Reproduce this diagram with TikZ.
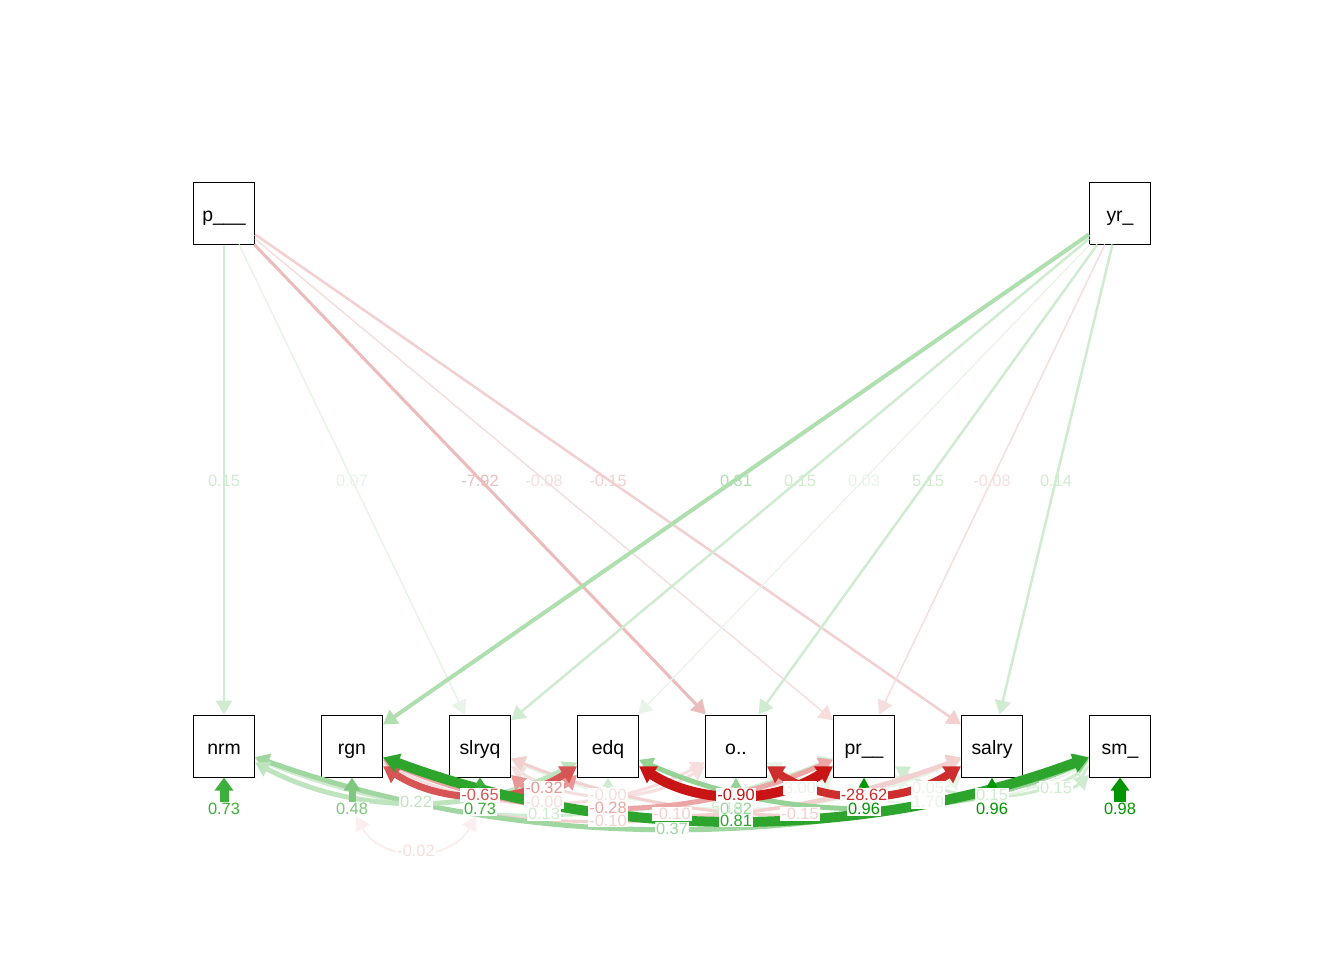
\documentclass[tikz,border=0pt]{standalone}
\usepackage{fontspec}
\setmainfont{Liberation Sans}
\usetikzlibrary{arrows.meta}

% greens (strong to faint)
\definecolor{cA}{RGB}{0,150,0}
\definecolor{cB}{RGB}{45,165,45}
\definecolor{cC}{RGB}{60,175,60}
\definecolor{cD}{RGB}{125,200,125}
\definecolor{cE}{RGB}{160,215,160}
\definecolor{cF}{RGB}{175,222,175}
\definecolor{cG}{RGB}{190,228,190}
\definecolor{cH}{RGB}{208,236,208}
\definecolor{cI}{RGB}{232,244,232}
\definecolor{cJ}{RGB}{150,210,150}
% reds (strong to faint)
\definecolor{rA}{RGB}{200,20,20}
\definecolor{rB}{RGB}{205,45,45}
\definecolor{rC}{RGB}{215,85,85}
\definecolor{rD}{RGB}{232,150,150}
\definecolor{rE}{RGB}{236,165,165}
\definecolor{rF}{RGB}{236,188,188}
\definecolor{rG}{RGB}{243,208,208}
\definecolor{rH}{RGB}{247,222,222}
\definecolor{rI}{RGB}{252,238,238}

\begin{document}
\begin{tikzpicture}[x=0.5pt,y=-0.5pt,
  var/.style={draw=black,line width=0.5pt,fill=white,minimum width=30.5pt,
    minimum height=31pt,inner sep=0pt,text height=1em,text depth=0.12em,
    font=\fontsize{9.7pt}{11pt}\selectfont},
  lbl/.style={font=\fontsize{8.2pt}{9pt}\selectfont,inner sep=0.5pt},
  blbl/.style={lbl,fill=white},
  tlbl/.style={lbl,yshift=-0.75pt},
  reg/.style={-{Triangle[length=7pt,width=8pt]}},
  cov/.style={{Triangle[length=7pt,width=8pt]}-{Triangle[length=7pt,width=8pt]}},
  covw/.style={{Triangle[length=8pt,width=9.5pt]}-{Triangle[length=8pt,width=9.5pt]}},
  d1/.style={out=-43,in=223,looseness=0.98},
  d2/.style={out=-33,in=213,looseness=0.93},
  d3/.style={out=-28,in=208,looseness=0.90},
  d4/.style={out=-24,in=204,looseness=0.89},
  d5/.style={out=-22,in=202,looseness=0.88},
  d6/.style={out=-20.4,in=200.4,looseness=0.88},
  d7/.style={out=-19.6,in=199.6,looseness=0.88}]
\useasboundingbox (0,0) rectangle (1344,960);
\fill[white] (0,0) rectangle (1344,960);

% variables
\node[var] (p)   at (224,213)  {p\_\_\_};
\node[var] (yr)  at (1120,213) {yr\_};
\node[var] (nrm) at (224,746)  {nrm};
\node[var] (rgn) at (352,746)  {rgn};
\node[var] (slr) at (480,746)  {slryq};
\node[var] (edq) at (608,746)  {edq};
\node[var] (o)   at (736,746)  {o..};
\node[var] (pr)  at (864,746)  {pr\_\_};
\node[var] (sal) at (992,746)  {salry};
\node[var] (sm)  at (1120,746) {sm\_};

% regressions
\draw[reg,draw=cH,line width=1.25pt] (p) -- coordinate[pos=.5] (t1) (nrm);
\draw[reg,draw=cI,line width=0.75pt] (p) -- coordinate[pos=.5] (t2) (slr);
\draw[reg,draw=rF,line width=1.5pt] (p) -- coordinate[pos=.5] (t3) (o);
\draw[reg,draw=rH,line width=0.75pt] (p) -- coordinate[pos=.5] (t4) (pr);
\draw[reg,draw=rG,line width=1.25pt] (p) -- coordinate[pos=.5] (t5) (sal);
\draw[reg,draw=cF,line width=2pt] (yr) -- coordinate[pos=.5] (t6) (rgn);
\draw[reg,draw=cH,line width=1.25pt] (yr) -- coordinate[pos=.5] (t7) (slr);
\draw[reg,draw=cI,line width=0.6pt] (yr) -- coordinate[pos=.5] (t8) (edq);
\draw[reg,draw=cH,line width=1.25pt] (yr) -- coordinate[pos=.5] (t9) (o);
\draw[reg,draw=rH,line width=0.75pt] (yr) -- coordinate[pos=.5] (t10) (pr);
\draw[reg,draw=cH,line width=1.25pt] (yr) -- coordinate[pos=.5] (t11) (sal);

% covariances
\draw[cov,draw=cI,line width=1pt] (o) to[d1] coordinate[pos=.5] (m2) (pr);
\draw[cov,draw=cI,line width=1pt] (pr) to[d1] coordinate[pos=.5] (m3) (sal);
\draw[cov,draw=cH,line width=1.5pt] (sal) to[d1] coordinate[pos=.5] (m4) (sm);
\draw[cov,draw=rH,line width=1.5pt] (slr) to[d2] coordinate[pos=.5] (m5) (o);
\draw[cov,draw=cH,line width=1.5pt] (pr) to[d2] coordinate[pos=.5] (m6) (sm);
\draw[cov,draw=rH,line width=1.5pt] (rgn) to[d3] coordinate[pos=.5] (m7) (o);
\draw[cov,draw=cI,line width=1pt] (o) to[d3] coordinate[pos=.5] (m8) (sm);
\draw[cov,draw=cI,line width=1pt] (slr) to[d4] coordinate[pos=.5] (m9) (sal);
\draw[cov,draw=cH,line width=1.5pt] (nrm) to[d5] coordinate[pos=.5] (m10) (pr);
\draw[cov,draw=rG,line width=1.5pt] (rgn) to[d5] coordinate[pos=.5] (m11) (sal);
\draw[cov,draw=rG,line width=1.5pt] (slr) to[d5] coordinate[pos=.5] (m12) (sm);
\draw[cov,draw=rG,line width=1.5pt] (nrm) to[d6] coordinate[pos=.5] (m13) (sal);
\draw[cov,draw=cE,line width=2.5pt] (nrm) to[d7] coordinate[pos=.5] (m14) (sm);
\draw[cov,draw=cG,line width=2.5pt] (nrm) to[d3] coordinate[pos=.5] (m15) (edq);
\draw[cov,draw=cJ,line width=2.5pt] (edq) to[d4] (sm);
\draw[cov,draw=rE,line width=2.5pt] (rgn) to[d4] coordinate[pos=.5] (m17) (pr);
\draw[cov,draw=rD,line width=2.5pt] (slr) to[d1] coordinate[pos=.5] (m18) (edq);
\draw[covw,draw=rC,line width=3.5pt] (rgn) to[d2] coordinate[pos=.5] (m19) (edq);
\draw[covw,draw=rB,line width=4pt] (o) to[d2] coordinate[pos=.5] (m20) (sal);
\draw[covw,draw=rA,line width=5pt] (edq) to[d2] coordinate[pos=.5] (m21) (pr);
\draw[covw,draw=cB,line width=5pt] (rgn) to[d6] coordinate[pos=.5] (m22) (sm);

% residual variances
\node[blbl,text=cC] (vnrm) at (224,809) {0.73};
\node[blbl,text=cD] (vrgn) at (352,809) {0.48};
\node[blbl,text=cC] (vslr) at (480,809) {0.73};
\coordinate (vedq) at (608,801);
\node[blbl,text=cJ] (vo) at (736,809) {0.82};
\node[blbl,text=cA] (vpr) at (864,809) {0.96};
\node[blbl,text=cA] (vsal) at (992,809) {0.96};
\node[blbl,text=cA] (vsm) at (1120,809) {0.98};
\draw[draw=cC,line width=4.5pt,-{Triangle[length=6.5pt,width=9pt]}] (vnrm) -- (nrm);
\draw[draw=cD,line width=3.5pt,-{Triangle[length=6.5pt,width=8pt]}] (vrgn) -- (rgn);
\draw[draw=cC,line width=2pt,-{Triangle[length=4pt,width=5pt]}] (vslr) -- (slr);
\draw[draw=cH,line width=2pt,-{Triangle[length=4.5pt,width=5pt]}] (vedq) -- (edq);
\draw[draw=cJ,line width=2pt,-{Triangle[length=5pt,width=5pt]}] (vo) -- (o);
\draw[draw=cA,line width=2pt,-{Triangle[length=5pt,width=5pt]}] (vpr) -- (pr);
\draw[draw=cA,line width=2pt,-{Triangle[length=5pt,width=5pt]}] (vsal) -- (sal);
\draw[draw=cA,line width=6pt,-{Triangle[length=6.5pt,width=9pt]}] (vsm) -- (sm);

% residual covariance between rgn and slryq
\draw[cov,draw=rI,line width=1pt] (vrgn) .. controls (382,863) and (450,863) .. (vslr);

% regression labels
\node[tlbl,text=cH] (lt1) at (t1) {0.15};
\node[tlbl,text=cI] (lt2) at (t2) {0.07};
\node[tlbl,text=rF] (lt3) at (t3) {-7.92};
\node[tlbl,text=rH] (lt4) at (t4) {-0.08};
\node[tlbl,text=rG] (lt5) at (t5) {-0.15};
\node[tlbl,text=cF] (lt6) at (t6) {0.31};
\node[tlbl,text=cH] (lt7) at (t7) {0.15};
\node[tlbl,text=cI] (lt8) at (t8) {0.03};
\node[tlbl,text=cH] (lt9) at (t9) {5.15};
\node[tlbl,text=rH] (lt10) at (t10) {-0.08};
\node[tlbl,text=cH] (lt11) at (t11) {0.14};

% covariance labels
\node[blbl,text=rH] (lm1) at (416,851) {-0.02};
\node[blbl,text=cI] (lm2) at (m2) {3.00};
\node[blbl,text=cI] (lm3) at (m3) {0.05};
\node[blbl,text=cH] (lm4) at (m4) {0.15};
\node[blbl,text=rH] (lm5) at (m5) {-0.00};
\node[blbl,text=cH] (lm6) at (m6) {0.15};
\node[blbl,text=rH] (lm7) at (m7) {-0.00};
\node[blbl,text=cI] (lm8) at (m8) {1.70};
\node[lbl,text=cH,xshift=-4.5pt] (lm9) at (m9) {5.10};
\node[blbl,text=cH] (lm10) at (m10) {0.13};
\node[blbl,text=rG] (lm11) at (m11) {-0.10};
\node[blbl,text=rG] (lm12) at (m12) {-0.15};
\node[blbl,text=rG] (lm13) at (m13) {-0.10};
\node[blbl,text=cE] (lm14) at (m14) {0.37};
\node[blbl,text=cG] (lm15) at (m15) {0.22};
\node[blbl,text=rE] (lm17) at (m17) {-0.28};
\node[blbl,text=rD] (lm18) at (m18) {-0.32};
\node[blbl,text=rC] (lm19) at (m19) {-0.65};
\node[blbl,text=rB] (lm20) at (m20) {-28.62};
\node[blbl,text=rA] (lm21) at (m21) {-0.90};
\node[blbl,text=cB] (lm22) at (m22) {0.81};
\end{tikzpicture}
\end{document}
